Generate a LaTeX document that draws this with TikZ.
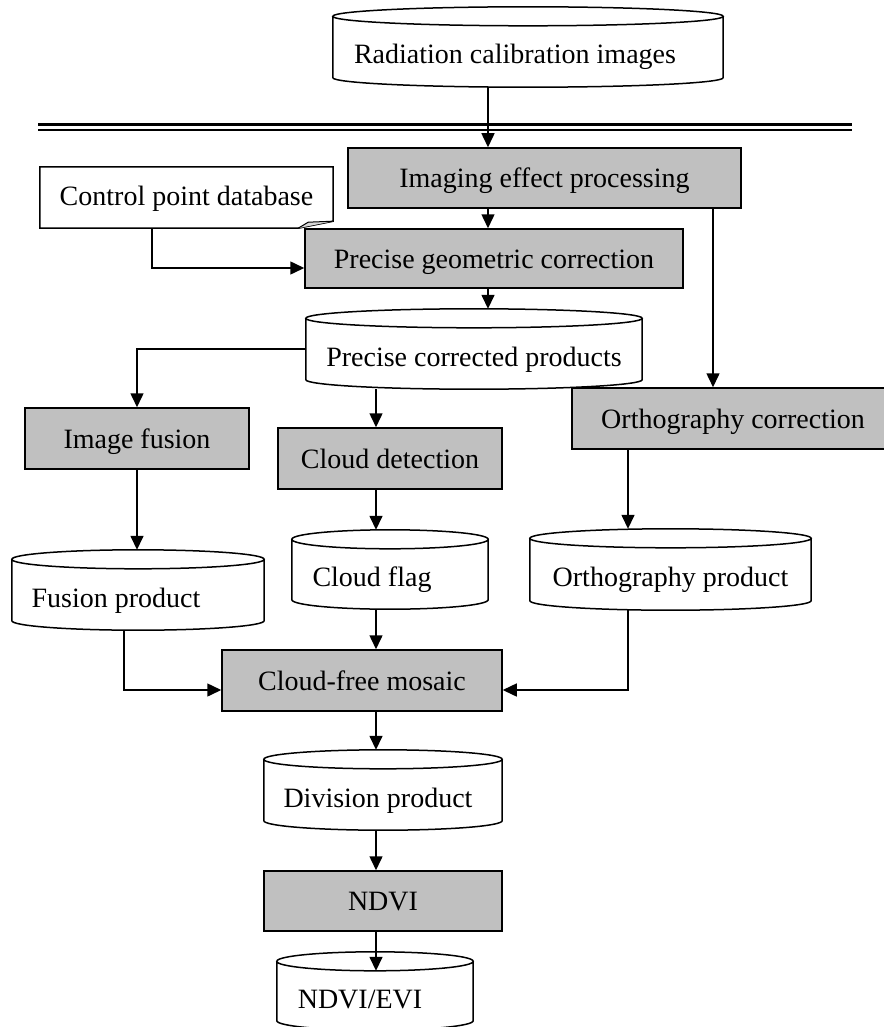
\documentclass[tikz,border=0pt]{standalone}
\usepackage{fontspec}
\setmainfont{Liberation Serif}
\usepackage{tikz}
\usetikzlibrary{arrows.meta,calc,positioning,shapes.geometric}
\definecolor{boxgray}{RGB}{192,192,192}
\definecolor{foldgray}{RGB}{215,215,215}
\tikzset{
  proc/.style={
    draw=black,
    fill=boxgray,
    line width=1.5pt,
    align=center,
    inner sep=0pt,
    minimum height=61pt,
    text height=25pt,
    text depth=6pt,
    font=\fontsize{28}{34}\selectfont
  },
  store/.style={
    inner sep=0pt,
    minimum height=80pt,
    text height=40pt,
    text depth=6pt,
    font=\fontsize{28}{34}\selectfont
  },
  pushleft/.style={
    execute at end node={\hspace*{#1}}
  },
  note/.style={
    inner sep=0pt,
    text height=22pt,
    text depth=6pt,
    font=\fontsize{28}{34}\selectfont
  },
  line/.style={
    line width=1.5pt
  },
  arrow/.style={
    -{Triangle[length=14pt,width=13pt]},
    line width=1.5pt
  }
}
\begin{document}
\begin{tikzpicture}[x=1pt,y=-1pt]
\useasboundingbox (0,0) rectangle (883,1027);
% stores and steps
\node[store,pushleft=26pt,minimum width=390pt] (rad) at (528,47) {Radiation calibration images};
\node[proc,minimum width=393pt,minimum height=60pt] (imaging) at (544.5,178) {Imaging effect processing};
\node[note,minimum width=293pt,minimum height=61pt] (ctrl) at (186.5,197.5) {Control point database};
\node[proc,minimum width=378pt,minimum height=59pt] (geo) at (494,258.5) {Precise geometric correction};
\node[store,minimum width=336pt] (prod) at (474,349) {Precise corrected products};
\node[proc,minimum width=224pt] (fusion) at (137,438.5) {Image fusion};
\node[proc,minimum width=224pt] (cloud) at (390,458.5) {Cloud detection};
\node[proc,minimum width=322pt] (ortho) at (733,418.5) {Orthography correction};
\node[store,pushleft=44pt,minimum width=252pt] (fprod) at (138,590) {Fusion product};
\node[store,pushleft=36pt,minimum width=196pt,minimum height=79pt] (flag) at (390,569.5) {Cloud flag};
\node[store,minimum width=281pt,minimum height=81pt] (oprod) at (670.5,569.5) {Orthography product};
\node[proc,minimum width=280pt] (mosaic) at (362,680.5) {Cloud-free mosaic};
\node[store,pushleft=10pt,minimum width=238pt] (div) at (383,790) {Division product};
\node[proc,minimum width=238pt,minimum height=60pt] (ndvi) at (383,901) {NDVI};
\node[store,pushleft=30pt,minimum width=196pt,minimum height=78pt] (evi) at (375,991) {NDVI/EVI};

% cylinder outlines
\foreach \s in {rad,prod,fprod,flag,oprod,div,evi}
  \draw[line] let \p1=($(\s.north east)-(\s.north west)$) in
    ([yshift=-9.5pt]\s.north) ellipse [x radius=0.5*\x1, y radius=9.5pt]
    ([yshift=-9.5pt]\s.north west) -- ([yshift=9.5pt]\s.south west)
    arc [start angle=180, end angle=360, x radius=0.5*\x1, y radius=9.5pt]
    -- ([yshift=-9.5pt]\s.north east);

% note outline with folded corner
\draw[line] (ctrl.north west) -- (ctrl.north east) -- ([yshift=7pt]ctrl.south east)
  -- ([xshift=-35pt]ctrl.south east) -- (ctrl.south west) -- cycle;
\draw[line,fill=foldgray,line width=1pt] ([xshift=-35pt]ctrl.south east) -- ([xshift=-25pt,yshift=6pt]ctrl.south east)
  -- ([yshift=7pt]ctrl.south east);

% double rule
\draw[line width=3.5pt] (38,124.5) -- (852,124.5);
\draw[line width=2pt] (38,130) -- (852,130);

% connectors
\coordinate (top) at (488,0);
\coordinate (mid) at (376,0);
\coordinate (rgt) at (628,0);
\coordinate (far) at (713,0);
\coordinate (lft) at (124,0);
\coordinate (ctl) at (152,0);
\draw[arrow] (top |- rad.south) -- (top |- imaging.north);
\draw[arrow] (top |- imaging.south) -- (top |- geo.north);
\draw[arrow] (top |- geo.south) -- (top |- prod.north);
\draw[arrow] (far |- imaging.south) -- (far |- ortho.north);
\draw[arrow] (ctl |- ctrl.south) |- ([yshift=-9.5pt]geo.west);
\draw[arrow] (prod.west) -| (fusion.north);
\draw[arrow] (mid |- prod.south) -- (mid |- cloud.north);
\draw[arrow] (fusion.south) -- (fusion.south |- fprod.north);
\draw[arrow] (mid |- cloud.south) -- (mid |- flag.north);
\draw[arrow] (rgt |- ortho.south) -- (rgt |- oprod.north);
\draw[arrow] (lft |- fprod.south) |- ([yshift=-9.5pt]mosaic.west);
\draw[arrow] (mid |- flag.south) -- (mid |- mosaic.north);
\draw[arrow] (rgt |- oprod.south) |- ([yshift=-9.5pt]mosaic.east);
\draw[arrow] (mid |- mosaic.south) -- (mid |- div.north);
\draw[arrow] (mid |- div.south) -- (mid |- ndvi.north);
\draw[arrow] (mid |- ndvi.south) -- ($(mid |- evi.north)+(0,19)$);
\end{tikzpicture}
\end{document}
